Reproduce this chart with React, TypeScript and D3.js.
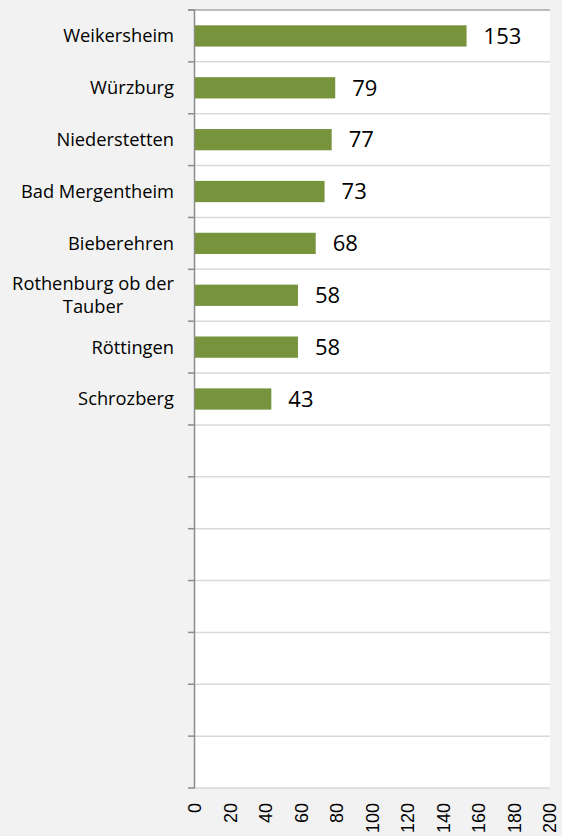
import React, { useRef, useEffect } from "react";
import * as d3 from "d3";

const width = 562;
const height = 836;
const margin = { left: 195, right: 12, top: 10, bottom: 48 };
const barColor = "#77933c";
const labelRight = 174; // right edge of category labels

// categories, top to bottom; empty slots are blank rows in the chart
const categories = [
  "Weikersheim",
  "Würzburg",
  "Niederstetten",
  "Bad Mergentheim",
  "Bieberehren",
  "Rothenburg ob der Tauber",
  "Röttingen",
  "Schrozberg",
  "",
  "",
  "",
  "",
  "",
  "",
  "",
];
const values = [153, 79, 77, 73, 68, 58, 58, 43];
const xTicks = [0, 20, 40, 60, 80, 100, 120, 140, 160, 180, 200];
// labels that Excel wrapped onto two lines
const wrapped: Record<string, string[]> = {
  "Rothenburg ob der Tauber": ["Rothenburg ob der", "Tauber"],
};

const App = () => {
  const labelsRef = useRef<SVGGElement>(null);

  const x = d3
    .scaleLinear()
    .domain([0, 200])
    .range([margin.left, width - margin.right]);
  const rows = d3
    .scaleBand<number>()
    .domain(d3.range(categories.length))
    .range([margin.top, height - margin.bottom]);
  const step = rows.step();
  const boundaries = d3.range(categories.length + 1).map((i) => margin.top + i * step);

  useEffect(() => {
    // center wrapped labels on their widest line, right edge aligned
    const g = d3.select(labelsRef.current);
    g.selectAll<SVGTextElement, unknown>("text.wrap").each(function () {
      const tspans = d3.select(this).selectAll<SVGTSpanElement, unknown>("tspan");
      let w = 0;
      tspans.each(function () {
        w = Math.max(w, this.getComputedTextLength());
      });
      const cx = labelRight - w / 2;
      tspans.attr("x", cx);
    });
  }, []);

  const fontCat = "'Open Sans', sans-serif";

  return (
    <svg
      width={width}
      height={height}
      style={{ position: "absolute", left: 0, top: 0, display: "block" }}
    >
      <rect width={width} height={height} fill="#f2f2f2" />
      <rect
        x={x(0)}
        y={margin.top}
        width={x(200) - x(0)}
        height={height - margin.bottom - margin.top}
        fill="#ffffff"
      />
      {/* gridlines */}
      {boundaries.slice(1).map((y, i) => (
        <line
          key={"g" + i}
          x1={x(0)}
          x2={x(200)}
          y1={y}
          y2={y}
          stroke="#d9d9d9"
          strokeWidth={1.5}
        />
      ))}
      {/* top axis line */}
      <line
        x1={x(0) - 7}
        x2={x(200)}
        y1={margin.top}
        y2={margin.top}
        stroke="#a6a6a6"
        strokeWidth={1.5}
      />
      {/* left axis and ticks */}
      <line
        x1={x(0) - 0.5}
        x2={x(0) - 0.5}
        y1={margin.top}
        y2={height - margin.bottom}
        stroke="#8c8c8c"
        strokeWidth={1.5}
      />
      {boundaries.map((y, i) => (
        <line
          key={"t" + i}
          x1={x(0) - 7}
          x2={x(0)}
          y1={y}
          y2={y}
          stroke="#8c8c8c"
          strokeWidth={1.5}
        />
      ))}
      {/* bars */}
      {values.map((v, i) => (
        <rect
          key={"b" + i}
          x={x(0)}
          y={(rows(i) as number) + rows.bandwidth() * 0.295}
          width={x(v) - x(0)}
          height={rows.bandwidth() * 0.41}
          fill={barColor}
        />
      ))}
      {/* value labels */}
      {values.map((v, i) => (
        <text
          key={"v" + i}
          x={x(v) + 17}
          y={(rows(i) as number) + rows.bandwidth() / 2}
          dy="0.35em"
          fontFamily={fontCat}
          fontSize={22}
          fill="#000"
        >
          {v}
        </text>
      ))}
      {/* category labels */}
      <g ref={labelsRef}>
        {categories.map((c, i) => {
          const cy = (rows(i) as number) + rows.bandwidth() / 2;
          const lines = wrapped[c];
          if (lines) {
            const lh = 23;
            return (
              <text
                key={"c" + i}
                className="wrap"
                y={cy}
                textAnchor="middle"
                fontFamily={fontCat}
                fontSize={18.3}
                fill="#000"
              >
                {lines.map((l, j) => (
                  <tspan
                    key={j}
                    x={labelRight}
                    y={cy + (j - (lines.length - 1) / 2) * lh}
                    dy="0.35em"
                  >
                    {l}
                  </tspan>
                ))}
              </text>
            );
          }
          return (
            <text
              key={"c" + i}
              x={labelRight}
              y={cy}
              dy="0.35em"
              textAnchor="end"
              fontFamily={fontCat}
              fontSize={18.3}
              fill="#000"
            >
              {c}
            </text>
          );
        })}
      </g>
      {/* x tick labels, rotated */}
      {xTicks.map((t) => (
        <text
          key={"x" + t}
          transform={`translate(${x(t)}, ${height - margin.bottom + 15}) rotate(-90)`}
          textAnchor="end"
          dy="0.35em"
          fontFamily="'Liberation Sans', Arial, sans-serif"
          fontSize={18}
          fill="#000"
        >
          {t}
        </text>
      ))}
    </svg>
  );
};

export default App;
